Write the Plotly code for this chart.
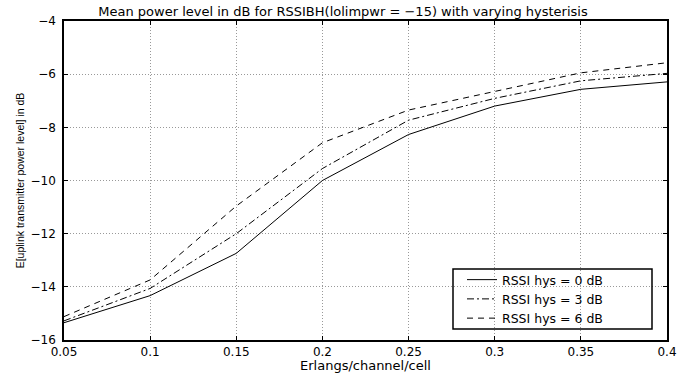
import plotly.graph_objects as go

x_vals = [0.05, 0.1, 0.15, 0.2, 0.25, 0.3, 0.35, 0.4]
hys0 = [-15.35, -14.33, -12.74, -10.0, -8.27, -7.2, -6.57, -6.29]
hys3 = [-15.28, -14.06, -12.0, -9.55, -7.73, -6.91, -6.25, -5.97]
hys6 = [-15.12, -13.74, -10.96, -8.58, -7.35, -6.64, -5.95, -5.57]
names = ["RSSI hys = 0 dB", "RSSI hys = 3 dB", "RSSI hys = 6 dB"]
x_ticks = [0.05, 0.1, 0.15, 0.2, 0.25, 0.3, 0.35, 0.4]
x_ticklabels = ["0.05", "0.1", "0.15", "0.2", "0.25", "0.3", "0.35", "0.4"]
y_ticks = [-16, -14, -12, -10, -8, -6, -4]
title_text = "Mean power level in dB for RSSIBH(lolimpwr = \u221215) with varying hysterisis"
x_title = "Erlangs/channel/cell"
y_title = "E[uplink transmitter power level] in dB"

dashes = ["solid", "7px,3px,2px,3px", "6px,5px"]

fig = go.Figure()
for ys, nm, d in zip([hys0, hys3, hys6], names, dashes):
    fig.add_trace(go.Scatter(x=x_vals, y=ys, mode="lines", name=nm,
                             line=dict(color="black", width=1, dash=d)))

font = "DejaVu Sans, Liberation Sans, Arial, sans-serif"
axis_common = dict(showline=True, linecolor="black", linewidth=1.5, mirror="ticks",
                   ticks="inside", ticklen=4, tickcolor="black",
                   showgrid=True, gridcolor="rgba(0,0,0,0.4)", griddash="1px,2px", gridwidth=1,
                   zeroline=False, tickfont=dict(size=12, color="black", family=font))

fig.update_layout(
    width=699, height=375,
    margin=dict(l=64, r=32, t=21, b=35),
    paper_bgcolor="white", plot_bgcolor="white",
    font=dict(family=font, color="black"),
    title=dict(text=title_text,
               x=343 / 699, xanchor="center", xref="container", y=1 - 11 / 375, yanchor="middle",
               font=dict(size=13, family=font, color="black")),
    xaxis=dict(range=[0.05, 0.4], tickvals=x_ticks, ticktext=x_ticklabels, **axis_common),
    yaxis=dict(range=[-16, -4], tickvals=y_ticks, ticklabelstandoff=4,
               title=dict(text=y_title,
                          font=dict(size=10.5, family="Liberation Sans, Arial, sans-serif"), standoff=4),
               **axis_common),
    legend=dict(x=(462 - 64) / 603, y=(340 - 265) / 319, xanchor="left", yanchor="top",
                borderwidth=0, bgcolor="rgba(0,0,0,0)",
                font=dict(size=12.5, family=font, color="black"),
                tracegroupgap=0, itemwidth=30),
    showlegend=True,
    annotations=[dict(text=x_title, xref="paper", yref="paper", x=0.5, y=(340 - 365) / 319,
                      xanchor="center", yanchor="middle", showarrow=False,
                      font=dict(size=13, family=font, color="black"))],
    shapes=[dict(type="rect", xref="paper", yref="paper",
                 x0=(453 - 64) / 603, x1=(652 - 64) / 603,
                 y0=(340 - 329) / 319, y1=(340 - 269) / 319,
                 line=dict(color="black", width=1.5), fillcolor="rgba(0,0,0,0)", layer="above")],
)

fig.write_html("out.html", config={"displayModeBar": False},
               post_script="document.body.style.margin='0';document.body.style.padding='0';")
